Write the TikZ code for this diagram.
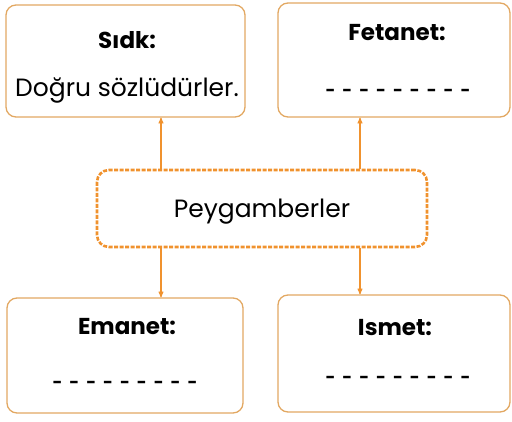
\documentclass[tikz,border=0pt]{standalone}
\usepackage{fontspec}
\setmainfont{Poppins}
\usetikzlibrary{arrows}
\definecolor{boxline}{HTML}{E2A862}
\definecolor{midline}{HTML}{F0922E}
\tikzset{
 infobox/.style={draw=boxline, line width=1.3pt, rounded corners=10pt, inner sep=0pt},
 midbox/.style={draw=midline, line width=2.6pt, dash pattern=on 4pt off 1.5pt, rounded corners=12pt, inner sep=0pt},
 title/.style={font=\fontsize{23}{26}\selectfont\bfseries, inner sep=0pt},
 body/.style={font=\fontsize{25}{28}\selectfont, inner sep=0pt},
 blank/.style={font=\fontsize{17}{20}\selectfont\bfseries, inner sep=0pt},
 link/.style={draw=midline, line width=1.1pt, ->, >=stealth'}
}
\newcommand{\dashline}{-\hspace{7pt}-\hspace{7pt}-\hspace{7pt}-\hspace{7pt}-\hspace{7pt}-\hspace{7pt}-\hspace{7pt}-\hspace{7pt}-}

\begin{document}
\begin{tikzpicture}[x=1pt,y=-1pt]
\useasboundingbox (0,0) rectangle (512,421);
% boxes
\node[infobox, minimum width=239pt, minimum height=112pt] (sidk) at (125.5,61) {};
\node[infobox, minimum width=232pt, minimum height=114pt] (fetanet) at (394,60) {};
\node[midbox, minimum width=330pt, minimum height=77pt] (peyg) at (262,208.5) {};
\node[infobox, minimum width=236pt, minimum height=115pt] (emanet) at (125,355.5) {};
\node[infobox, minimum width=232pt, minimum height=117pt] (ismet) at (394,353.5) {};
% texts
\node[title] (sidkt) at (127,40) {Sıdk:};
\node[body] (sidkb) at (127,90) {Doğru sözlüdürler.};
\node[title] (fetanett) at (397,33) {Fetanet:};
\node[blank] (fetanetb) at (398,93) {\dashline};
\node[body] (peygt) at (262,212) {Peygamberler};
\node[title] (emanett) at (127,327) {Emanet:};
\node[blank] (emanetb) at (125,385) {\dashline};
\node[title] (ismett) at (395,328) {Ismet:};
\node[blank] (ismetb) at (398,380) {\dashline};
% arrows
\draw[link] (peyg.north -| 161,0) -- (sidk.south -| 161,0);
\draw[link] (peyg.north -| 360,0) -- (fetanet.south -| 360,0);
\draw[link] (peyg.south -| 161,0) -- (emanet.north -| 161,0);
\draw[link] (peyg.south -| 360,0) -- (ismet.north -| 360,0);
\end{tikzpicture}
\end{document}
